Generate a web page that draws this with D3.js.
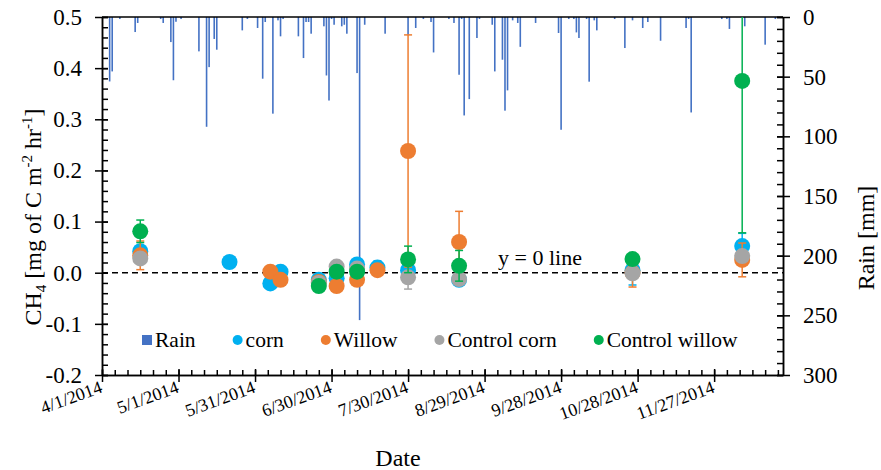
<!DOCTYPE html>
<html>
<head>
<meta charset="utf-8">
<script src="https://cdn.jsdelivr.net/npm/d3@7"></script>
<style>
  body { margin: 0; background: #fff; }
  svg { font-family: "Liberation Serif", "Times New Roman", serif; }
  .axis path, .axis line { stroke: #000; stroke-width: 1.5; }
  .axis text { font-family: "Liberation Serif", "Times New Roman", serif; fill: #000; }
</style>
</head>
<body>
<div id="chart"></div>
<script>
// ------------------------- data
var sampleDates = ["4/16/2014", "5/21/2014", "6/6/2014", "6/10/2014", "6/25/2014", "7/2/2014",
    "7/10/2014", "7/18/2014", "7/30/2014", "8/19/2014", "10/26/2014", "12/8/2014"];

var cornVals = [0.042, 0.021, -0.021, 0.002, -0.014, -0.011, 0.016, 0.010, 0.005, -0.014, 0.005, 0.052];
var cornErr = [0.010, 0.004, 0.005, 0.005, 0.005, 0.005, 0.005, 0.013, 0.005, 0.005, 0.029, 0.025];
var willowVals = [0.034, null, 0.002, -0.014, -0.018, -0.026, -0.014, 0.005, 0.238, 0.060, 0.000, 0.025];
var willowErr = [0.028, null, 0.005, 0.005, 0.005, 0.005, 0.005, 0.005, 0.227, 0.060, 0.028, 0.033];
var ctrlCornVals = [0.028, null, null, null, -0.020, 0.012, 0.008, null, -0.009, -0.0125, -0.001, 0.0325];
var ctrlCornErr = [0.010, null, null, null, 0.005, 0.005, 0.005, null, 0.023, 0.010, 0.010, 0.010];
var ctrlWillowVals = [0.081, null, null, null, -0.026, 0.002, 0.002, null, 0.026, 0.0135, 0.0266, 0.375];
var ctrlWillowErr = [0.022, null, null, null, 0.005, 0.005, 0.005, null, 0.026, 0.030, 0.005, 0.297];

var rainDates = ["4/4/2014", "4/5/2014", "4/8/2014", "4/14/2014", "4/15/2014", "4/24/2014", "4/25/2014",
    "4/28/2014", "4/29/2014", "4/30/2014", "5/2/2014", "5/9/2014", "5/12/2014", "5/13/2014", "5/15/2014",
    "5/16/2014", "5/26/2014", "5/28/2014", "6/1/2014", "6/3/2014", "6/4/2014", "6/7/2014", "6/9/2014",
    "6/10/2014", "6/11/2014", "6/17/2014", "6/19/2014", "6/20/2014", "6/21/2014", "6/22/2014", "6/27/2014",
    "6/28/2014", "6/29/2014", "6/30/2014", "7/1/2014", "7/4/2014", "7/5/2014", "7/6/2014", "7/10/2014",
    "7/11/2014", "7/13/2014", "7/21/2014", "7/30/2014", "8/2/2014", "8/5/2014", "8/8/2014", "8/9/2014",
    "8/15/2014", "8/17/2014", "8/19/2014", "8/20/2014", "8/21/2014", "8/23/2014", "8/26/2014", "8/27/2014",
    "9/1/2014", "9/2/2014", "9/5/2014", "9/6/2014", "9/7/2014", "9/9/2014", "9/11/2014", "9/12/2014",
    "9/18/2014", "9/27/2014", "9/28/2014", "10/1/2014", "10/3/2014", "10/4/2014", "10/5/2014", "10/8/2014",
    "10/9/2014", "10/11/2014", "10/12/2014", "10/19/2014", "10/23/2014", "10/26/2014", "10/30/2014",
    "11/1/2014", "11/6/2014", "11/16/2014", "11/17/2014", "11/18/2014", "11/30/2014", "12/2/2014",
    "12/3/2014", "12/9/2014", "12/17/2014", "12/21/2014"];
var rainVals = [54, 45.6, 1.7, 12.6, 5, 1.7, 5,
    21, 53, 4, 1.7, 28.8, 92, 42, 18.4,
    27.4, 11.2, 1.7, 9.2, 51.7, 4.2, 81, 2.8,
    16.2, 1.7, 16.2, 34.4, 4.2, 4.2, 14, 7.8,
    49, 70, 1.7, 6.5, 7.8, 6.5, 14, 47,
    254, 6.5, 14, 15, 9.2, 1.7, 4.2, 29.7,
    1.7, 5, 48.4, 1.7, 82.5, 68.8, 17.6, 1.7,
    6.5, 45.6, 35.8, 78.5, 61.5, 2.8, 5, 25,
    5, 13.4, 94.5, 1.7, 1.7, 12.9, 17.6, 1.7,
    54.2, 2.8, 11.2, 1.7, 26, 2.8, 9.2,
    4.2, 19.9, 9.2, 1.7, 80, 1.7, 1.7,
    10, 7.8, 23.2, 1.7];

var seriesNames = ["corn", "Willow", "Control corn", "Control willow"];
var seriesColors = ["#00B0F0", "#ED7D31", "#A5A5A5", "#00B050"];
var rainColor = "#4472C4";

function drawChart() {
    var width = 881, height = 470;
    var plotL = 102, plotR = 783, plotT = 17, plotB = 375;
    var serif = "'Liberation Serif', 'Times New Roman', serif";

    var parseDate = d3.utcParse("%m/%d/%Y");
    var startDate = parseDate("4/1/2014");
    var endDate = d3.utcDay.offset(startDate, 267);

    var x = d3.scaleUtc().domain([startDate, endDate]).range([plotL, plotR]);
    var y = d3.scaleLinear().domain([-0.2, 0.5]).range([plotB, plotT]);
    var yRain = d3.scaleLinear().domain([0, 300]).range([plotT, plotB]);

    var svg = d3.select("#chart").append("svg")
        .attr("width", width)
        .attr("height", height);

    svg.append("clipPath").attr("id", "plot-clip")
        .append("rect")
        .attr("x", plotL).attr("y", plotT)
        .attr("width", plotR - plotL).attr("height", plotB - plotT);

    // rain bars hang from the top
    svg.append("g").selectAll("rect")
        .data(rainDates.map(function(d, i) { return { date: parseDate(d), value: rainVals[i] }; }))
        .enter()
        .append("rect")
        .attr("x", function(d) { return x(d.date) - 0.8; })
        .attr("y", plotT)
        .attr("width", 1.6)
        .attr("height", function(d) { return yRain(d.value) - plotT; })
        .attr("fill", rainColor);

    // y = 0 line
    svg.append("line")
        .attr("x1", plotL).attr("x2", plotR)
        .attr("y1", y(0)).attr("y2", y(0))
        .attr("stroke", "#000")
        .attr("stroke-width", 1.5)
        .attr("stroke-dasharray", "6,4");

    svg.append("text")
        .attr("x", 498).attr("y", 265)
        .style("font-size", "22px")
        .text("y = 0 line");

    // ------------------------- axes
    var dayTicks = d3.range(0, 268, 30).map(function(d) { return d3.utcDay.offset(startDate, d); });
    var dayMinor = d3.range(0, 268, 5).map(function(d) { return d3.utcDay.offset(startDate, d); });
    var fmtDate = d3.utcFormat("%-m/%-d/%Y");

    // minor ticks first (inside)
    svg.append("g").attr("class", "axis")
        .attr("transform", "translate(0," + plotB + ")")
        .call(d3.axisBottom(x).tickValues(dayMinor).tickSize(-5).tickSizeOuter(0).tickFormat(""));
    svg.append("g").attr("class", "axis")
        .attr("transform", "translate(" + plotL + ",0)")
        .call(d3.axisLeft(y).tickValues(d3.range(-0.2, 0.501, 0.02)).tickSize(-6).tickSizeOuter(0).tickFormat(""));
    svg.append("g").attr("class", "axis")
        .attr("transform", "translate(" + plotR + ",0)")
        .call(d3.axisRight(yRain).tickValues(d3.range(0, 301, 10)).tickSize(-6).tickSizeOuter(0).tickFormat(""));

    var xAxis = svg.append("g").attr("class", "axis")
        .attr("transform", "translate(0," + plotB + ")")
        .call(d3.axisBottom(x).tickValues(dayTicks).tickSize(7).tickSizeOuter(0).tickFormat(fmtDate))
        .attr("font-family", serif);
    xAxis.selectAll(".tick line").attr("y1", -6);
    xAxis.selectAll("text")
        .attr("x", 0).attr("y", 0).attr("dy", 0)
        .attr("transform", "translate(1,17) rotate(-20)")
        .style("text-anchor", "end")
        .style("font-family", serif)
        .style("font-size", "18px");

    var yAxis = svg.append("g").attr("class", "axis")
        .attr("transform", "translate(" + plotL + ",0)")
        .call(d3.axisLeft(y).tickValues(d3.range(-0.2, 0.501, 0.1)).tickSize(7).tickPadding(13)
            .tickSizeOuter(0).tickFormat(function(d) { return d.toFixed(1); }))
        .attr("font-family", serif);
    yAxis.selectAll(".tick line").attr("x1", 6);
    yAxis.selectAll("text").style("font-family", serif).style("font-size", "23px");

    var rAxis = svg.append("g").attr("class", "axis")
        .attr("transform", "translate(" + plotR + ",0)")
        .call(d3.axisRight(yRain).tickValues(d3.range(0, 301, 50)).tickSize(7).tickPadding(13).tickSizeOuter(0))
        .attr("font-family", serif);
    rAxis.selectAll(".tick line").attr("x1", -6);
    rAxis.selectAll("text").style("font-family", serif).style("font-size", "23px");

    // top border
    svg.append("line")
        .attr("x1", plotL).attr("x2", plotR)
        .attr("y1", plotT).attr("y2", plotT)
        .attr("stroke", "#000").attr("stroke-width", 1.5);

    // ------------------------- series
    var allVals = [cornVals, willowVals, ctrlCornVals, ctrlWillowVals];
    var allErr = [cornErr, willowErr, ctrlCornErr, ctrlWillowErr];

    allVals.forEach(function(vals, s) {
        var points = [];
        vals.forEach(function(v, i) {
            if (v !== null) points.push({ date: parseDate(sampleDates[i]), value: v, err: allErr[s][i] });
        });
        var g = svg.append("g").attr("clip-path", "url(#plot-clip)");
        var col = seriesColors[s];

        // error bars
        g.selectAll(".eb").data(points).enter().append("line")
            .attr("x1", function(d) { return x(d.date); })
            .attr("x2", function(d) { return x(d.date); })
            .attr("y1", function(d) { return y(d.value + d.err); })
            .attr("y2", function(d) { return y(d.value - d.err); })
            .attr("stroke", col).attr("stroke-width", 1.5);
        [1, -1].forEach(function(sign) {
            g.selectAll(".cap").data(points).enter().append("line")
                .attr("x1", function(d) { return x(d.date) - 4; })
                .attr("x2", function(d) { return x(d.date) + 4; })
                .attr("y1", function(d) { return y(d.value + sign * d.err); })
                .attr("y2", function(d) { return y(d.value + sign * d.err); })
                .attr("stroke", col).attr("stroke-width", 1.5);
        });

        g.selectAll("circle").data(points).enter().append("circle")
            .attr("cx", function(d) { return x(d.date); })
            .attr("cy", function(d) { return y(d.value); })
            .attr("r", 8)
            .attr("fill", col);
    });

    // ------------------------- legend
    var legend = svg.append("g").attr("transform", "translate(142,347)");
    var lx = 0;
    ["Rain"].concat(seriesNames).forEach(function(name, i) {
        if (i === 0) {
            legend.append("rect").attr("x", lx).attr("y", -12).attr("width", 10).attr("height", 10).attr("fill", rainColor);
        } else {
            legend.append("circle").attr("cx", lx + 5).attr("cy", -7).attr("r", 5).attr("fill", seriesColors[i - 1]);
        }
        var t = legend.append("text")
            .attr("x", lx + 13)
            .style("font-size", "21.5px")
            .text(name);
        lx = lx + 13 + t.node().getComputedTextLength() + 37;
    });

    // ------------------------- titles
    var yTitle = svg.append("text")
        .attr("transform", "translate(41,217) rotate(-90)")
        .style("text-anchor", "middle")
        .style("font-size", "24px");
    yTitle.append("tspan").text("CH");
    yTitle.append("tspan").attr("dy", 5).style("font-size", "15px").text("4");
    yTitle.append("tspan").attr("dy", -5).text(" [mg of C m");
    yTitle.append("tspan").attr("dy", -9).style("font-size", "15px").text("-2");
    yTitle.append("tspan").attr("dy", 9).text(" hr");
    yTitle.append("tspan").attr("dy", -9).style("font-size", "15px").text("-1");
    yTitle.append("tspan").attr("dy", 9).text("]");

    svg.append("text")
        .attr("transform", "translate(874,238) rotate(-90)")
        .style("text-anchor", "middle")
        .style("font-size", "24px")
        .text("Rain [mm]");

    svg.append("text")
        .attr("x", 398).attr("y", 466)
        .style("text-anchor", "middle")
        .style("font-size", "24px")
        .text("Date");
}

drawChart();
</script>
</body>
</html>
